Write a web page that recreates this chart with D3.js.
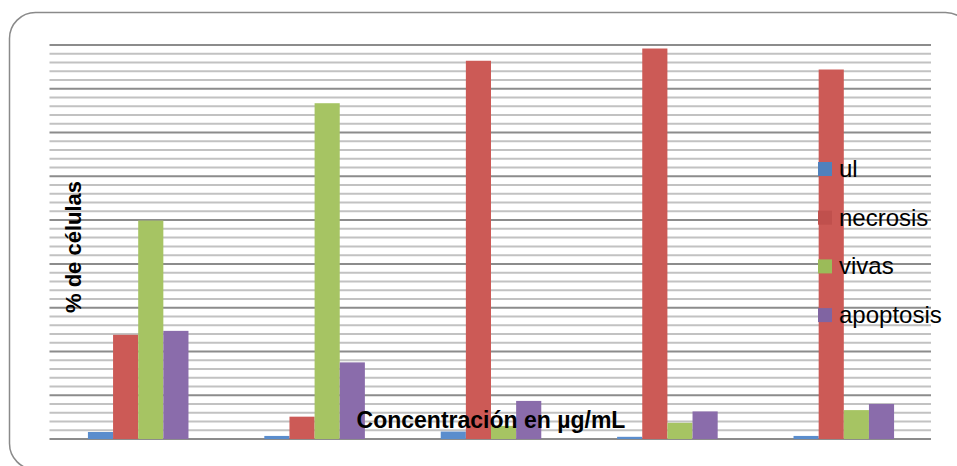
<!DOCTYPE html>
<html>
<head>
<meta charset="utf-8">
<script src="https://cdn.jsdelivr.net/npm/d3@7"></script>
<style>
  html, body { margin: 0; padding: 0; background: #fff; }
  svg { display: block; }
</style>
</head>
<body>
<svg id="chart" width="957" height="466"></svg>
<script>
// ---- data ----
const categories = ["C1", "C2", "C3", "C4", "C5"];
const seriesNames = ["ul", "necrosis", "vivas", "apoptosis"];
const ul        = [1.6, 0.7, 1.7, 0.5, 0.7];
const necrosis  = [23.8, 5.1, 86.4, 89.2, 84.4];
const vivas     = [49.9, 76.7, 3.0, 3.7, 6.6];
const apoptosis = [24.7, 17.5, 8.7, 6.3, 8.0];
const yMax = 90;
const minorStep = 2;
const majorStep = 10;
const yTitle = "% de células";
const xTitle = "Concentración en µg/mL";

const seriesValues = [ul, necrosis, vivas, apoptosis];
const colors = ["#5a8dcd", "#cc5a56", "#a6c463", "#8a6cab"];
const legendColors = ["#4f81bd", "#c0504d", "#9bbb59", "#8064a2"];

const svg = d3.select("#chart");
const plot = { left: 49.5, right: 931, top: 45, bottom: 439 };

// frame
svg.append("rect")
  .attr("x", 9.5).attr("y", 12.5)
  .attr("width", 962).attr("height", 457)
  .attr("rx", 26).attr("ry", 26)
  .attr("fill", "#fff")
  .attr("stroke", "#8a8a8a")
  .attr("stroke-width", 1.5);

const y = d3.scaleLinear().domain([0, yMax]).range([plot.bottom, plot.top]);
const x0 = d3.scaleBand().domain(categories).range([50, 932])
  .paddingInner(0.43).paddingOuter(0.215);
const x1 = d3.scaleBand().domain(seriesNames).range([0, x0.bandwidth()]);

// gridlines
const minorTicks = d3.range(minorStep, yMax + 0.001, minorStep);
svg.append("g").selectAll("line")
  .data(minorTicks)
  .join("line")
  .attr("x1", plot.left).attr("x2", plot.right)
  .attr("y1", d => y(d)).attr("y2", d => y(d))
  .attr("stroke", d => (Math.abs(d % majorStep) < 1e-6) ? "#8c8c8c" : "#c2c2c2")
  .attr("stroke-width", 2);

// x axis (no labels)
const xAxis = d3.axisBottom(x0).tickSize(0).tickFormat("");
const gx = svg.append("g").attr("transform", `translate(0,${plot.bottom})`).call(xAxis);
gx.select(".domain").remove();
svg.append("line")
  .attr("x1", plot.left).attr("x2", plot.right)
  .attr("y1", y(0)).attr("y2", y(0))
  .attr("stroke", "#8c8c8c").attr("stroke-width", 2);

// bars
const rows = categories.map((c, i) => ({
  cat: c,
  vals: seriesNames.map((s, j) => ({ key: s, value: seriesValues[j][i], color: colors[j] }))
}));
svg.append("g").selectAll("g")
  .data(rows)
  .join("g")
  .attr("transform", d => `translate(${x0(d.cat)},0)`)
  .selectAll("rect")
  .data(d => d.vals)
  .join("rect")
  .attr("x", d => x1(d.key))
  .attr("width", x1.bandwidth())
  .attr("y", d => y(d.value))
  .attr("height", d => y(0) - y(d.value))
  .attr("fill", d => d.color);

// legend
const legend = svg.append("g").attr("transform", "translate(818,169)");
const li = legend.selectAll("g").data(seriesNames).join("g")
  .attr("transform", (d, i) => `translate(0,${i * 48.7})`);
li.append("rect")
  .attr("x", 0).attr("y", -7).attr("width", 14).attr("height", 14)
  .attr("fill", (d, i) => legendColors[i]);
li.append("text")
  .attr("x", 21).attr("y", 8)
  .attr("font-family", "Liberation Sans, Arial, sans-serif")
  .attr("font-size", 24)
  .attr("fill", "#000")
  .text(d => d);

// axis titles
svg.append("text")
  .attr("x", 491).attr("y", 428)
  .attr("text-anchor", "middle")
  .attr("font-family", "Liberation Sans, Arial, sans-serif")
  .attr("font-weight", "bold")
  .attr("font-size", 23)
  .attr("fill", "#000")
  .text(xTitle);

svg.append("text")
  .attr("transform", "translate(81,247) rotate(-90)")
  .attr("text-anchor", "middle")
  .attr("font-family", "Liberation Sans, Arial, sans-serif")
  .attr("font-weight", "bold")
  .attr("font-size", 22)
  .attr("fill", "#000")
  .text(yTitle);
</script>
</body>
</html>
